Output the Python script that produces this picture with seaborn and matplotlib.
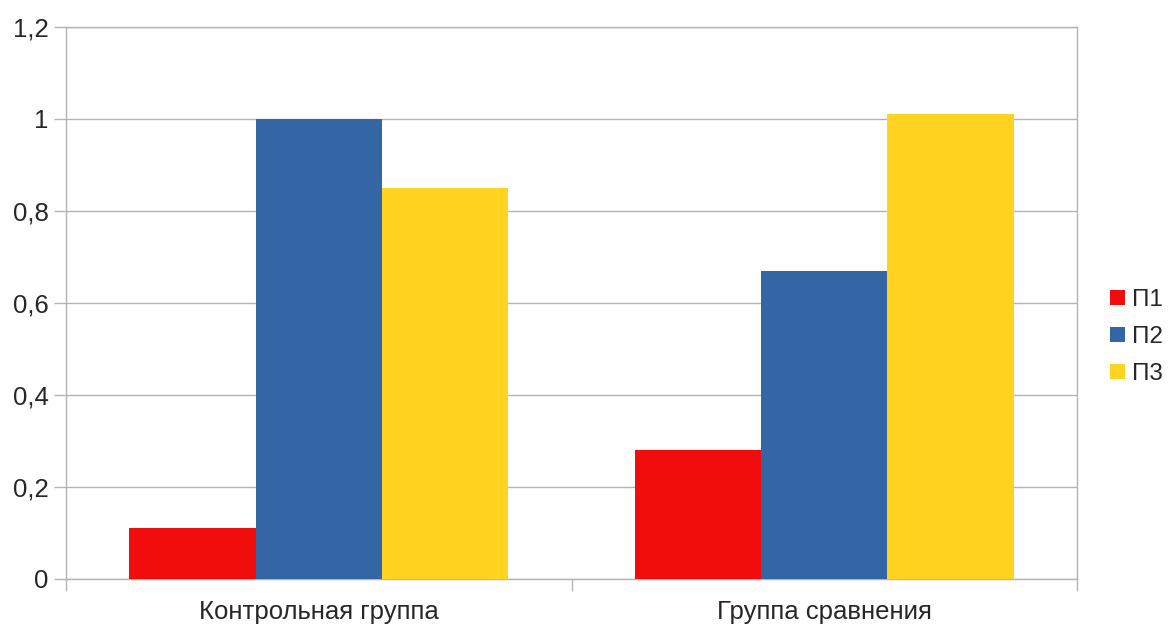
import matplotlib
matplotlib.use("Agg")
import matplotlib.pyplot as plt
import seaborn as sns
import pandas as pd
from matplotlib.patches import Patch

categories = ["Контрольная группа", "Группа сравнения"]
series = ["П1", "П2", "П3"]
p1 = [0.11, 0.28]
p2 = [1.0, 0.67]
p3 = [0.85, 1.01]
yticks = [0, 0.2, 0.4, 0.6, 0.8, 1.0, 1.2]
ytick_labels = ["0", "0,2", "0,4", "0,6", "0,8", "1", "1,2"]
colors = ["#F10D0C", "#3465A4", "#FFD320"]

rows = []
for s, vals in zip(series, [p1, p2, p3]):
    for c, v in zip(categories, vals):
        rows.append({"cat": c, "series": s, "value": v})
df = pd.DataFrame(rows)

sns.set_style("white")
plt.rcParams["font.family"] = ["Liberation Sans", "DejaVu Sans"]

fig = plt.figure(figsize=(11.69, 6.26), dpi=100)
ax = fig.add_axes([66 / 1169, 47 / 626, (1077 - 66) / 1169, (579 - 27) / 626])

sns.barplot(data=df, x="cat", y="value", hue="series", palette=colors,
            order=categories, hue_order=series, width=0.75, gap=0,
            saturation=1, linewidth=0, ax=ax, legend=False, zorder=3)

grid_c = "#b3b3b3"
fs = 18.5
ax.set_xlim(-0.5, 1.5)
ax.set_ylim(0, 1.2)
ax.set_yticks(yticks)
ax.set_yticklabels(ytick_labels)
ax.yaxis.grid(True, color=grid_c, linewidth=1.0, zorder=0)
ax.set_axisbelow(True)
ax.set_xlabel("")
ax.set_ylabel("")
for sp in ax.spines.values():
    sp.set_color(grid_c)
    sp.set_linewidth(1.0)
    sp.set_visible(True)

ax.tick_params(axis="y", which="major", length=8.6, width=1.0, color=grid_c,
               labelsize=fs, pad=4, left=True)
ax.tick_params(axis="x", which="major", length=0, labelsize=fs, pad=15)
ax.set_xticks([-0.5, 0.5, 1.5], minor=True)
ax.tick_params(axis="x", which="minor", length=8.6, width=1.0, color=grid_c, bottom=True)

handles = [Patch(facecolor=c, edgecolor="none", label=s) for c, s in zip(colors, series)]
fig.legend(handles=handles, loc="center left", bbox_to_anchor=(1110 / 1169, (626 - 337) / 626),
           frameon=False, fontsize=17.5, handlelength=0.62, handleheight=0.62,
           handletextpad=0.3, labelspacing=0.62, borderaxespad=0, borderpad=0)

fig.savefig("out.png", dpi=100)
